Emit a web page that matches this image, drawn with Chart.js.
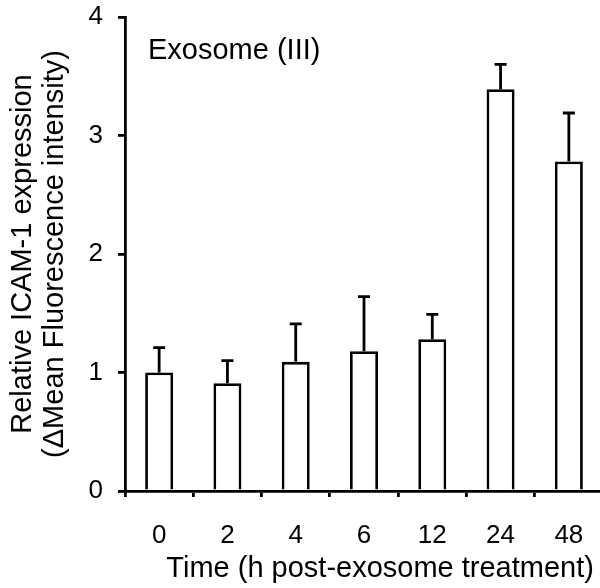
<!DOCTYPE html>
<html>

<head>
    <title>ICAM-1 expression</title>
    <script src="https://cdn.jsdelivr.net/npm/chart.js"></script>
    <style>
        html, body {
            margin: 0;
            padding: 0;
            background: white;
            overflow: hidden;
        }

        #chart {
            display: block;
        }
    </style>
</head>

<body>
    <canvas id="chart" width="603" height="588"></canvas>

    <script>
        // data
        const timePoints = ['0', '2', '4', '6', '12', '24', '48'];
        const meanValues = [1.00, 0.91, 1.09, 1.18, 1.28, 3.39, 2.78];
        const errorValues = [0.21, 0.19, 0.32, 0.46, 0.21, 0.21, 0.41];
        const yTicks = [0, 1, 2, 3, 4];
        const panelLabel = 'Exosome (III)';
        const xTitle = '    Time (h post-exosome treatment)';
        const yTitle = ['Relative ICAM-1 expression', '(\u0394Mean Fluorescence intensity)'];

        const fontFamily = '"Liberation Sans", Arial, Helvetica, sans-serif';
        const tickSize = 26;
        const titleSize = 29;
        const lineW = 2.8;

        // upward error bars on top of each bar
        const errorBars = {
            id: 'errorBars',
            afterDatasetsDraw(chart) {
                const ctx = chart.ctx;
                const yScale = chart.scales.y;
                const meta = chart.getDatasetMeta(0);
                ctx.save();
                ctx.strokeStyle = 'black';
                ctx.lineWidth = lineW;
                meta.data.forEach((bar, i) => {
                    const top = yScale.getPixelForValue(meanValues[i] + errorValues[i]);
                    ctx.beginPath();
                    ctx.moveTo(bar.x, bar.y);
                    ctx.lineTo(bar.x, top);
                    ctx.moveTo(bar.x - 6, top);
                    ctx.lineTo(bar.x + 6, top);
                    ctx.stroke();
                });
                ctx.restore();
            }
        };

        // label inside the plot, top left
        const panelText = {
            id: 'panelText',
            afterDraw(chart) {
                const ctx = chart.ctx;
                const area = chart.chartArea;
                ctx.save();
                ctx.font = titleSize + 'px ' + fontFamily;
                ctx.fillStyle = 'black';
                ctx.textAlign = 'left';
                ctx.textBaseline = 'alphabetic';
                ctx.fillText(panelLabel, area.left + 23, area.top + 42);
                ctx.restore();
            }
        };

        const ctx = document.getElementById('chart').getContext('2d');

        new Chart(ctx, {
            type: 'bar',
            data: {
                labels: timePoints,
                datasets: [{
                    data: meanValues,
                    backgroundColor: 'white',
                    borderColor: 'black',
                    borderWidth: lineW,
                    categoryPercentage: 1,
                    barPercentage: 0.41
                }]
            },
            options: {
                responsive: false,
                animation: false,
                layout: {
                    padding: { top: 17, right: 0, left: 0, bottom: 0 }
                },
                plugins: {
                    legend: { display: false },
                    tooltip: { enabled: false }
                },
                scales: {
                    x: {
                        afterFit(scale) {
                            scale.height = 97;
                            scale.paddingLeft = 0;
                            scale.paddingRight = 0;
                        },
                        grid: {
                            drawOnChartArea: false,
                            tickLength: 6,
                            color: 'black',
                            lineWidth: lineW
                        },
                        border: { color: 'black', width: lineW },
                        ticks: {
                            color: 'black',
                            padding: 23,
                            font: { family: fontFamily, size: tickSize }
                        },
                        title: {
                            display: true,
                            text: xTitle,
                            color: 'black',
                            padding: { top: 0, bottom: 2 },
                            font: { family: fontFamily, size: titleSize }
                        }
                    },
                    y: {
                        min: 0,
                        max: 4,
                        afterFit(scale) {
                            scale.width = 125;
                            scale.paddingTop = 0;
                            scale.paddingBottom = 0;
                        },
                        afterBuildTicks(scale) {
                            scale.ticks = yTicks.map(v => ({ value: v }));
                        },
                        grid: {
                            drawOnChartArea: false,
                            tickLength: 7,
                            color: 'black',
                            lineWidth: lineW
                        },
                        border: { color: 'black', width: lineW },
                        ticks: {
                            color: 'black',
                            padding: 15,
                            font: { family: fontFamily, size: tickSize }
                        },
                        title: {
                            display: true,
                            text: yTitle,
                            color: 'black',
                            padding: { top: 7, bottom: 0 },
                            font: { family: fontFamily, size: titleSize, lineHeight: 1.1 }
                        }
                    }
                }
            },
            plugins: [errorBars, panelText]
        });
    </script>
</body>

</html>
